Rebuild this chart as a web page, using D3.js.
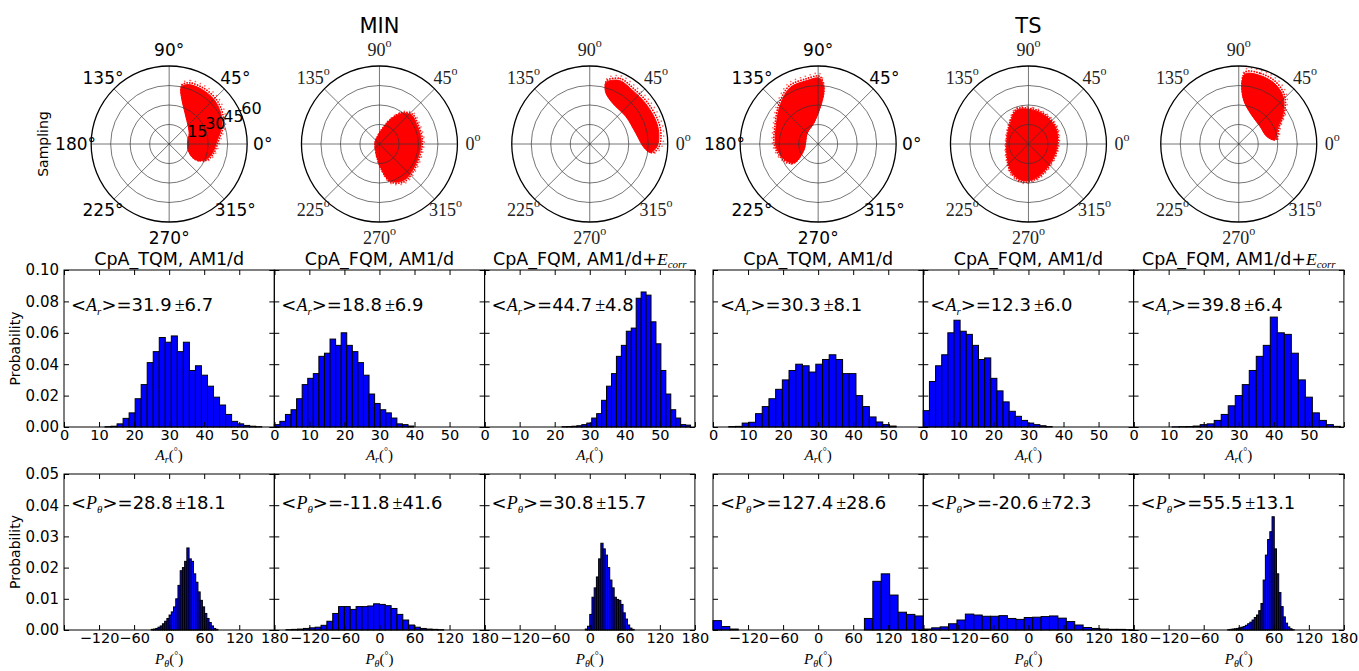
<!DOCTYPE html>
<html>
<head>
<meta charset="utf-8">
<script src="https://cdn.jsdelivr.net/npm/d3@7"></script>
<style>
  body { margin: 0; background: #fff; }
</style>
</head>
<body>
<div id="chart"></div>
<script>
// ---- data ----
const groups = ["MIN", "TS"];
const methods = ["CpA_TQM, AM1/d", "CpA_FQM, AM1/d", "CpA_FQM, AM1/d+"];
const withEcorr = [false, false, true, false, false, true];

const arMean = [31.9, 18.8, 44.7, 30.3, 12.3, 39.8];
const arSd   = [6.7, 6.9, 4.8, 8.1, 6.0, 6.4];
const ptMean = [28.8, -11.8, 30.8, 127.4, -20.6, 55.5];
const ptSd   = [18.1, 41.6, 15.7, 28.6, 72.3, 13.1];

// A_r histograms (start of first bin, bin width, probability per bin)
const arBinStart = [11.7, 0, 22.1, 4.5, 0, 11];
const arBinWidth = [1.72, 1.59, 1.41, 1.91, 1.75, 2];
const arProb = [
  [0.0002, 0.0005, 0.002, 0.0055, 0.009, 0.018, 0.027, 0.041, 0.048, 0.057, 0.054, 0.058, 0.048,
   0.054, 0.036, 0.039, 0.033, 0.026, 0.019, 0.014, 0.008, 0.0036, 0.002, 0.001, 0.0005, 0.0002],
  [0.0015, 0.0036, 0.008, 0.011, 0.018, 0.027, 0.031, 0.034, 0.045, 0.047, 0.056, 0.052, 0.060,
   0.052, 0.048, 0.041, 0.033, 0.021, 0.015, 0.011, 0.009, 0.0057, 0.002, 0.0015, 0.0006],
  [0.0002, 0.0003, 0.0005, 0.0008, 0.0015, 0.0025, 0.0057, 0.0085, 0.017, 0.026, 0.034, 0.045, 0.052,
   0.061, 0.063, 0.082, 0.086, 0.084, 0.067, 0.053, 0.036, 0.021, 0.011, 0.0057, 0.0015, 0.0012],
  [0.0003, 0.0004, 0.0025, 0.003, 0.0085, 0.013, 0.018, 0.024, 0.030, 0.036, 0.040, 0.039, 0.035,
   0.040, 0.043, 0.046, 0.043, 0.034, 0.034, 0.020, 0.013, 0.0064, 0.0032, 0.0015, 0.0006],
  [0.0104, 0.029, 0.039, 0.046, 0.060, 0.068, 0.061, 0.059, 0.052, 0.043, 0.044, 0.031, 0.023,
   0.016, 0.010, 0.0068, 0.0042, 0.0025, 0.0015, 0.0008, 0.0003],
  [0.0001, 0.0002, 0.0003, 0.0006, 0.0015, 0.002, 0.0042, 0.008, 0.0135, 0.020, 0.027, 0.036,
   0.045, 0.052, 0.070, 0.060, 0.059, 0.047, 0.030, 0.019, 0.009, 0.0042, 0.0015, 0.0004]
];

// P_theta histograms
const ptBinStart = [-30.5, -160, -7.6, -180, -180, -19];
const ptBinWidth = [3.8, 10, 3.8, 14.4, 14.4, 3.8];
const ptProb = [
  [0.0002, 0.0003, 0.0005, 0.0009, 0.0013, 0.002, 0.0028, 0.0037, 0.0048, 0.0058, 0.0074, 0.010,
   0.0143, 0.019, 0.020, 0.022, 0.0263, 0.0228, 0.022, 0.018, 0.0153, 0.0122, 0.0095, 0.0074,
   0.0053, 0.0037, 0.0024, 0.0013, 0.0005, 0.0002],
  [0.0001, 0.0002, 0.0003, 0.0005, 0.0007, 0.0009, 0.0015, 0.0028, 0.0053, 0.0075, 0.0075, 0.0066,
   0.0075, 0.0075, 0.0077, 0.0084, 0.0082, 0.0078, 0.0069, 0.005, 0.0032, 0.0016, 0.0009, 0.0005,
   0.0003, 0.0002, 0.0001],
  [0.0003, 0.0012, 0.005, 0.0105, 0.0135, 0.017, 0.0228, 0.0278, 0.026, 0.024, 0.020, 0.016,
   0.0135, 0.0105, 0.0098, 0.0095, 0.0082, 0.0055, 0.0035, 0.0016, 0.0006, 0.0002],
  [0.003, 0.0011, 0.0003, 0, 0, 0, 0, 0, 0, 0, 0, 0, 0, 0, 0, 0, 0, 0,
   0.0037, 0.0156, 0.018, 0.0112, 0.0057, 0.005, 0.0045],
  [0.0003, 0.0007, 0.001, 0.002, 0.0032, 0.0051, 0.0048, 0.0044, 0.0044, 0.0046, 0.0037, 0.0034,
   0.004, 0.0041, 0.0043, 0.0045, 0.0038, 0.0027, 0.0016, 0.0008, 0.0005, 0.0003, 0.0002, 0.0002, 0.0001],
  [0.0001, 0.0002, 0.0003, 0.0004, 0.0005, 0.0007, 0.0009, 0.0011, 0.0015, 0.002, 0.0025, 0.0032,
   0.004, 0.0048, 0.0062, 0.0085, 0.016, 0.024, 0.029, 0.0315, 0.0363, 0.026, 0.018, 0.012,
   0.0075, 0.0042, 0.0022, 0.001, 0.0004, 0.0001]
];

// outline of each sampling cloud, [angle in degrees, A_r]
const clouds = [
  [[77.6,45.4],[71.4,48.2],[58.5,49],[44.6,48.6],[31,46.3],[18.5,42.7],[5,37.3],[-11.7,34],
   [-23,30.7],[-30.4,23.8],[-24,16.9],[3,14.1],[29,17.6],[59,24.8],[74,35.5],[78,42.7]],
  [[167,3.4],[258,9.6],[275,19.6],[286,29.5],[303,33.7],[323,32.4],[347,31.6],[6,32.3],
   [29,32.5],[42,33.2],[54,29],[66,20.2],[81,11],[114,5]],
  [[75,49.2],[65,53.9],[51,52.8],[36,53.1],[20,53.9],[9,53.8],[-2,51.9],[-8,47.3],
   [-4,41.9],[13,36.4],[37,34.9],[60,35.8],[72,40.7],[75,45.3]],
  [[88,50.2],[84,41.5],[86.5,28.7],[102,16.3],[135,11.8],[202,11.7],[218,23.4],[204,28.7],
   [183,32.5],[157,35.1],[133,42.3],[116,48.6],[100,49.6],[91,50.9]],
  [[109,27.5],[82,26.3],[56,25.2],[27,24.1],[-11,21.9],[-48,22.8],[-76,26.6],[262,28.6],
   [240,25.4],[210,18.9],[169,16.8],[131,21.2]],
  [[84.6,54.2],[72.6,55.2],[59,54],[46.6,49.8],[34.6,41.5],[23.8,33.2],[6.7,28],[15,22.3],
   [39,21.2],[69,25.2],[83.6,33.9],[87,46.4]]
];

const ringTicks = [15, 30, 45, 60];
const angleTicks = [0, 45, 90, 135, 180, 225, 270, 315];
const arTicks = [0, 10, 20, 30, 40, 50, 60];
const ptTicks = [-180, -120, -60, 0, 60, 120, 180];
const arProbTicks = [0, 0.02, 0.04, 0.06, 0.08, 0.10];
const ptProbTicks = [0, 0.01, 0.02, 0.03, 0.04, 0.05];

// ---- layout ----
const W = 1359, H = 671;
const sans = '"DejaVu Sans", sans-serif';
const serif = '"Liberation Serif", "DejaVu Serif", serif';
const groupLeft = [64, 713];
const panelW = 210.3;
const panelLeft = d3.range(6).map(i => groupLeft[Math.floor(i / 3)] + (i % 3) * panelW);
const rows = [{top: 270, bottom: 427}, {top: 474, bottom: 630}];
const polarY = 144, polarR = 78;
const sansPolar = [true, false, false, true, false, false];

const svg = d3.select("#chart").append("svg")
  .attr("width", W).attr("height", H)
  .attr("font-family", sans);

// group titles
groups.forEach((g, k) => {
  svg.append("text")
    .attr("x", panelLeft[k * 3 + 1] + panelW / 2).attr("y", 33)
    .attr("text-anchor", "middle").attr("font-size", 21)
    .text(g);
});

svg.append("text")
  .attr("transform", `translate(48,${polarY}) rotate(-90)`)
  .attr("text-anchor", "middle").attr("font-size", 14)
  .text("Sampling");

// ---- polar plots ----
const rScale = d3.scaleLinear().domain([0, 60]).range([0, polarR]);
const rad = d => d * Math.PI / 180;
const cloudLine = d3.line()
  .x(d => rScale(d[1]) * Math.cos(rad(d[0])))
  .y(d => -rScale(d[1]) * Math.sin(rad(d[0])))
  .curve(d3.curveCatmullRomClosed.alpha(0.5));

clouds.forEach((cloud, i) => {
  const g = svg.append("g")
    .attr("transform", `translate(${panelLeft[i] + panelW / 2},${polarY})`);

  // loose points round the edge of the cloud
  g.append("path").attr("d", cloudLine(cloud))
    .attr("transform", "scale(1.07)")
    .attr("fill", "none").attr("stroke", "#ff2020").attr("stroke-width", 1.6)
    .attr("vector-effect", "non-scaling-stroke")
    .attr("stroke-linecap", "round").attr("stroke-dasharray", "0.1,5")
    .attr("opacity", 0.7);
  g.append("path").attr("d", cloudLine(cloud))
    .attr("transform", "scale(1.03)")
    .attr("fill", "none").attr("stroke", "#ff0000").attr("stroke-width", 1.8)
    .attr("vector-effect", "non-scaling-stroke")
    .attr("stroke-linecap", "round").attr("stroke-dasharray", "0.1,2.6");
  g.append("path").attr("d", cloudLine(cloud))
    .attr("fill", "#ff0000").attr("stroke", "#ff0000").attr("stroke-width", 1);

  g.selectAll(".ring").data(ringTicks.slice(0, -1)).enter()
    .append("circle")
    .attr("r", d => rScale(d))
    .attr("fill", "none").attr("stroke", "#333").attr("stroke-opacity", 0.75)
    .attr("stroke-width", 0.9);

  g.selectAll(".spoke").data(angleTicks.slice(0, 4)).enter()
    .append("line")
    .attr("x1", d => -polarR * Math.cos(rad(d))).attr("y1", d => polarR * Math.sin(rad(d)))
    .attr("x2", d => polarR * Math.cos(rad(d))).attr("y2", d => -polarR * Math.sin(rad(d)))
    .attr("stroke", "#333").attr("stroke-opacity", 0.75).attr("stroke-width", 0.9);

  g.append("circle").attr("r", rScale(60))
    .attr("fill", "none").attr("stroke", "#000").attr("stroke-width", 1.3);

  const shown = sansPolar[i] ? angleTicks : angleTicks.filter(d => d !== 180);
  const lab = g.selectAll(".alab").data(shown).enter()
    .append("text")
    .attr("x", d => rScale(60) * 1.2 * Math.cos(rad(d)))
    .attr("y", d => -rScale(60) * 1.2 * Math.sin(rad(d)))
    .attr("text-anchor", "middle").attr("dominant-baseline", "central");
  if (sansPolar[i]) {
    lab.attr("font-size", 17).text(d => d + "°");
  } else {
    lab.attr("font-family", serif).attr("font-size", 18).attr("fill", "#222");
    lab.append("tspan").text(d => d);
    lab.append("tspan").attr("font-size", 12).attr("dy", -7).text("o");
  }

  if (i === 0) {
    g.selectAll(".rlab").data(ringTicks).enter()
      .append("text")
      .attr("x", d => rScale(d) * Math.cos(rad(22.5)))
      .attr("y", d => -rScale(d) * Math.sin(rad(22.5)))
      .attr("font-size", 16)
      .text(d => d);
  }
});

// ---- histogram rows ----
function richText(sel, sym, sub, mean, sd) {
  sel.append("tspan").text("<");
  sel.append("tspan").attr("font-family", serif).attr("font-style", "italic").text(sym);
  sel.append("tspan").attr("font-family", serif).attr("font-style", "italic")
    .attr("font-size", 11).attr("dy", 4).text(sub);
  sel.append("tspan").attr("dy", -4).text(">=" + mean.toFixed(1));
  sel.append("tspan").attr("font-family", serif).attr("dx", 3).text("±");
  sel.append("tspan").text(sd.toFixed(1));
}

function axisLabel(sel, sym, sub) {
  sel.attr("font-family", serif).attr("font-size", 15);
  sel.append("tspan").attr("font-style", "italic").text(sym);
  sel.append("tspan").attr("font-style", "italic").attr("font-size", 10).attr("dy", 3).text(sub);
  sel.append("tspan").attr("dy", -3).text("(");
  sel.append("tspan").attr("font-size", 10).attr("dy", -5).text("°");
  sel.append("tspan").attr("dy", 5).text(")");
}

const rowSpecs = [
  {row: rows[0], domain: [0, 60], yMax: 0.10, xTicks: arTicks, yTicks: arProbTicks,
   start: arBinStart, width: arBinWidth, prob: arProb, mean: arMean, sd: arSd,
   sym: "A", sub: "r", hide: 60, textDy: 41, labelDy: 33},
  {row: rows[1], domain: [-180, 180], yMax: 0.05, xTicks: ptTicks, yTicks: ptProbTicks,
   start: ptBinStart, width: ptBinWidth, prob: ptProb, mean: ptMean, sd: ptSd,
   sym: "P", sub: "θ", hide: -180, textDy: 35, labelDy: 34}
];

rowSpecs.forEach((spec, r) => {
  const {top, bottom} = spec.row;
  const y = d3.scaleLinear().domain([0, spec.yMax]).range([bottom, top]);

  svg.append("text")
    .attr("transform", `translate(20,${(top + bottom) / 2}) rotate(-90)`)
    .attr("text-anchor", "middle").attr("font-size", 14)
    .text("Probability");

  d3.range(6).forEach(i => {
    const x0 = panelLeft[i];
    const x = d3.scaleLinear().domain(spec.domain).range([x0, x0 + panelW]);
    const g = svg.append("g");

    const bins = spec.prob[i].map((p, k) => ({
      a: spec.start[i] + k * spec.width[i],
      b: spec.start[i] + (k + 1) * spec.width[i],
      p: p
    })).filter(d => d.p > 0);

    g.selectAll("rect.bar").data(bins).enter()
      .append("rect").attr("class", "bar")
      .attr("x", d => x(d.a))
      .attr("width", d => x(d.b) - x(d.a))
      .attr("y", d => y(d.p))
      .attr("height", d => y(0) - y(d.p))
      .attr("fill", "#0000ff").attr("stroke", "#000").attr("stroke-width", 1);

    // axes with inward ticks on all sides
    const fmtX = d => (d === spec.hide ? "" : d3.format("d")(d));
    g.append("g").attr("transform", `translate(0,${bottom})`)
      .call(d3.axisBottom(x).tickValues(spec.xTicks).tickFormat(fmtX)
        .tickSizeInner(-5).tickSizeOuter(0).tickPadding(3))
      .call(a => a.select(".domain").remove())
      .call(a => a.selectAll("text").attr("font-size", 14.5).attr("font-family", sans));
    g.append("g").attr("transform", `translate(0,${top})`)
      .call(d3.axisTop(x).tickValues(spec.xTicks).tickFormat("")
        .tickSizeInner(-5).tickSizeOuter(0))
      .call(a => a.select(".domain").remove());
    g.append("g").attr("transform", `translate(${x0},0)`)
      .call(d3.axisLeft(y).tickValues(spec.yTicks)
        .tickFormat(i === 0 ? d3.format(".2f") : () => "")
        .tickSizeInner(-5).tickSizeOuter(0).tickPadding(5))
      .call(a => a.select(".domain").remove())
      .call(a => a.selectAll("text").attr("font-size", 15).attr("font-family", sans));
    g.append("g").attr("transform", `translate(${x0 + panelW},0)`)
      .call(d3.axisRight(y).tickValues(spec.yTicks).tickFormat("")
        .tickSizeInner(-5).tickSizeOuter(0))
      .call(a => a.select(".domain").remove());

    g.append("rect")
      .attr("x", x0).attr("y", top).attr("width", panelW).attr("height", bottom - top)
      .attr("fill", "none").attr("stroke", "#000").attr("stroke-width", 1);

    const ann = g.append("text")
      .attr("x", x0 + 7).attr("y", top + spec.textDy)
      .attr("font-size", 18);
    richText(ann, spec.sym, spec.sub, spec.mean[i], spec.sd[i]);

    const xl = g.append("text")
      .attr("x", x0 + panelW / 2).attr("y", bottom + spec.labelDy)
      .attr("text-anchor", "middle");
    axisLabel(xl, spec.sym, spec.sub);

    if (r === 0) {
      const t = g.append("text")
        .attr("x", x0 + panelW / 2).attr("y", top - 5)
        .attr("text-anchor", "middle").attr("font-size", 17.5)
        .text(methods[i % 3]);
      if (withEcorr[i]) {
        t.append("tspan").attr("font-family", serif).attr("font-style", "italic").text("E");
        t.append("tspan").attr("font-family", serif).attr("font-style", "italic")
          .attr("font-size", 11).attr("dy", 3).text("corr");
      }
    }
  });
});
</script>
</body>
</html>
